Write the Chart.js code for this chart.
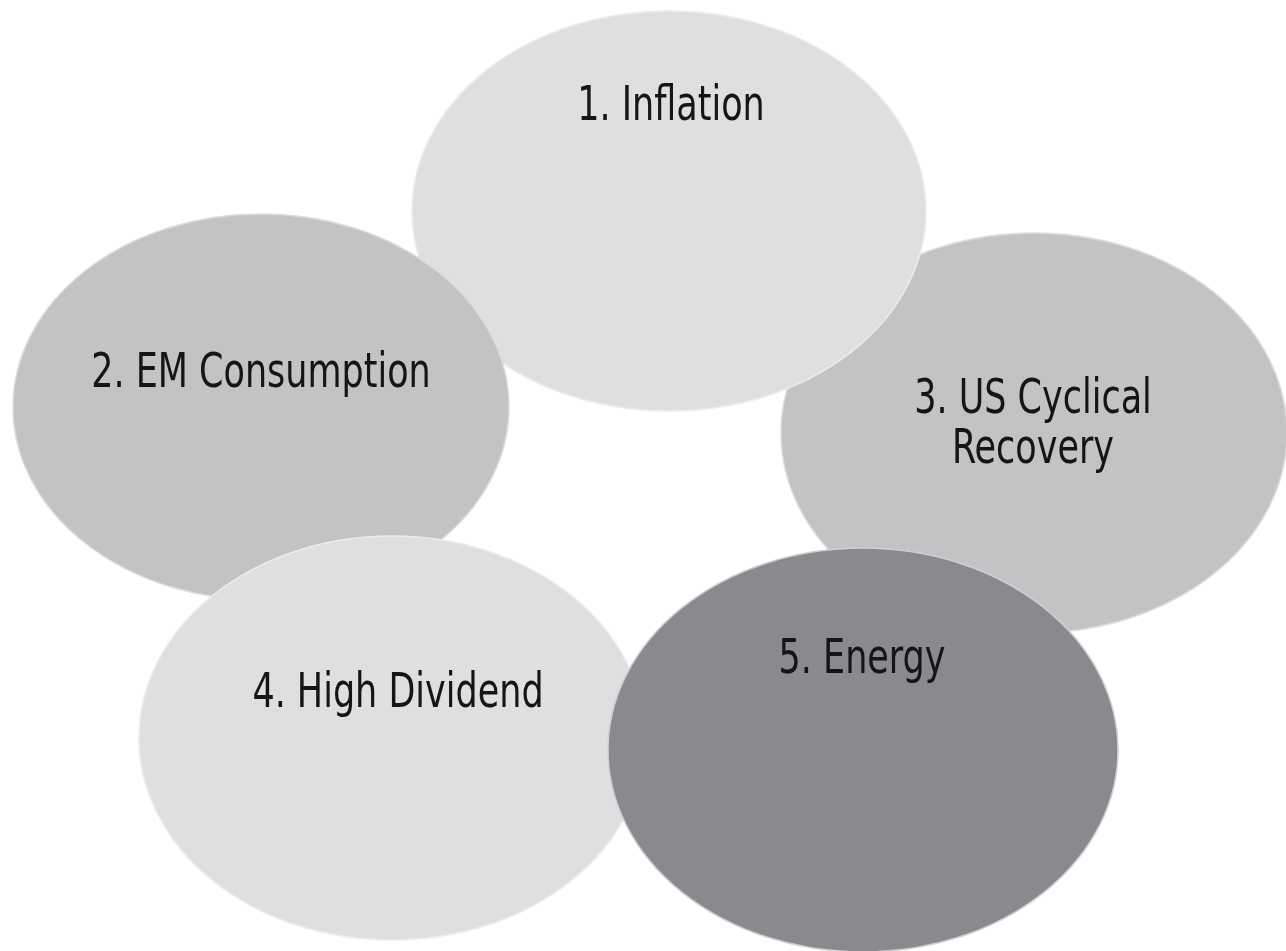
<!DOCTYPE html>
<html>
<head>
<meta charset="utf-8">
<style>
  html, body { margin: 0; padding: 0; background: #ffffff; }
  #wrap { width: 1286px; height: 951px; }
</style>
<script src="https://cdn.jsdelivr.net/npm/chart.js@4/dist/chart.umd.min.js"></script>
</head>
<body>
<div id="wrap"><canvas id="c" width="1286" height="951"></canvas></div>
<script>
// Themes (draw order: back to front)
const themes   = ["3. US Cyclical\nRecovery", "1. Inflation", "2. EM Consumption", "4. High Dividend", "5. Energy"];
const centerX  = [1034, 669, 261, 392, 863];
const centerY  = [433, 211, 407, 738, 750];
const radiusX  = [253, 257, 248, 253, 255];
const radiusY  = [200, 200, 193, 202, 202];
const labelX   = [1033, 671, 261, 398, 862];
const labelY   = [401, 108, 375, 695, 661];
const fills    = ["#c3c3c5", "#dfdfe1", "#c3c3c5", "#dfdfe1", "#8a898e"];
const edges    = ["#dcdcde", "#ececee", "#dcdcde", "#ececee", "#d0d0d2"];

const FONT = '48px "Liberation Sans Narrow", "DejaVu Sans Condensed", "Roboto Condensed", "Liberation Sans", sans-serif';
const SQUEEZE = 0.81;

const ellipsePlugin = {
  id: 'ellipses',
  afterDatasetsDraw(chart) {
    const ctx = chart.ctx;
    const xs = chart.scales.x, ys = chart.scales.y;
    ctx.save();
    for (let i = 0; i < themes.length; i++) {
      const cx = xs.getPixelForValue(centerX[i]);
      const cy = ys.getPixelForValue(centerY[i]);
      const rx = Math.abs(xs.getPixelForValue(centerX[i] + radiusX[i]) - cx);
      const ry = Math.abs(ys.getPixelForValue(centerY[i] + radiusY[i]) - cy);
      ctx.beginPath();
      ctx.ellipse(cx, cy, rx, ry, 0, 0, Math.PI * 2);
      ctx.fillStyle = fills[i];
      ctx.fill();
      ctx.lineWidth = 1.5;
      ctx.strokeStyle = edges[i];
      ctx.stroke();
    }
    ctx.font = FONT;
    ctx.fillStyle = '#151515';
    ctx.textAlign = 'center';
    ctx.textBaseline = 'middle';
    for (let i = 0; i < themes.length; i++) {
      const lx = xs.getPixelForValue(labelX[i]);
      const ly = ys.getPixelForValue(labelY[i]);
      const lines = themes[i].split('\n');
      lines.forEach((ln, k) => {
        ctx.save();
        ctx.translate(lx, ly + k * 50);
        ctx.scale(SQUEEZE, 1);
        ctx.fillText(ln, 0, 0);
        ctx.restore();
      });
    }
    ctx.restore();
  }
};

new Chart(document.getElementById('c'), {
  type: 'scatter',
  data: {
    datasets: [{
      label: 'Themes',
      data: centerX.map((x, i) => ({ x: x, y: centerY[i] })),
      pointRadius: 0,
      pointHoverRadius: 0
    }]
  },
  options: {
    responsive: false,
    maintainAspectRatio: false,
    animation: false,
    devicePixelRatio: 1,
    layout: { padding: 0 },
    plugins: { legend: { display: false }, tooltip: { enabled: false } },
    events: [],
    scales: {
      x: { type: 'linear', min: 0, max: 1286, display: false },
      y: { type: 'linear', min: 0, max: 951, reverse: true, display: false }
    }
  },
  plugins: [ellipsePlugin]
});
</script>
</body>
</html>
